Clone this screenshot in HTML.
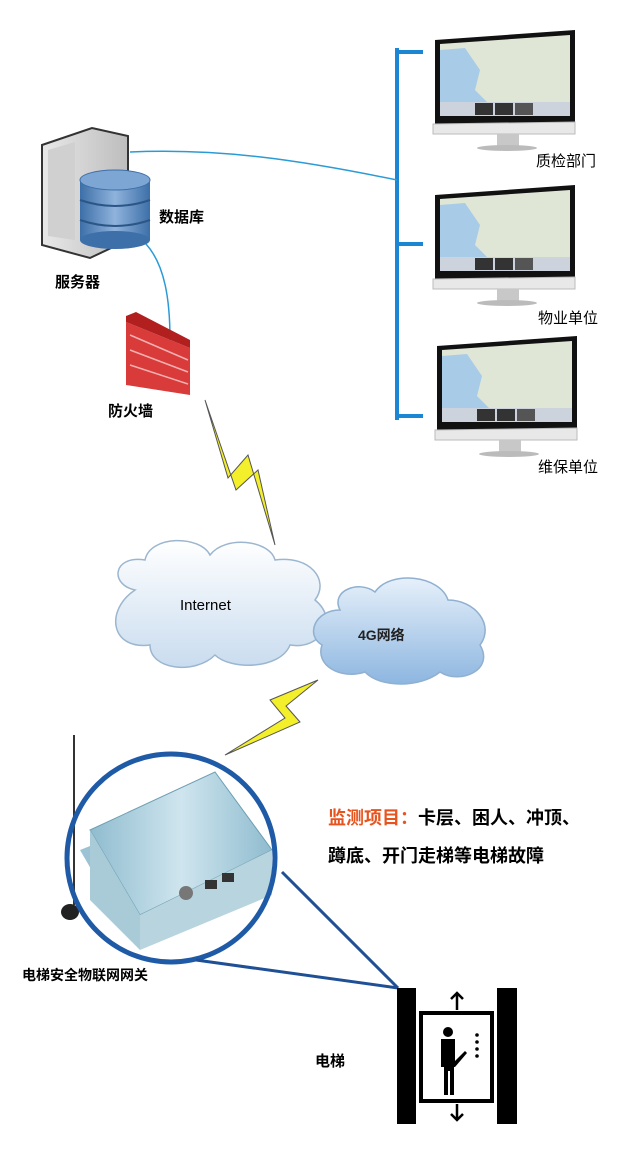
<!DOCTYPE html>
<html><head><meta charset="utf-8"><style>
html,body{margin:0;padding:0;background:#fff;}
svg{display:block;}
text{font-family:"Liberation Sans","Noto Sans CJK SC",sans-serif;}
</style></head><body>
<svg width="640" height="1154" viewBox="0 0 640 1154" xmlns="http://www.w3.org/2000/svg">
<defs>
<linearGradient id="db" x1="0" x2="1"><stop offset="0" stop-color="#3d6fa8"/><stop offset=".5" stop-color="#8fb3dc"/><stop offset="1" stop-color="#3d6fa8"/></linearGradient>
<linearGradient id="srv" x1="0" x2="1"><stop offset="0" stop-color="#e8e8e8"/><stop offset="1" stop-color="#bdbdbd"/></linearGradient>
<linearGradient id="cl1" x1="0" y1="0" x2="0" y2="1"><stop offset="0" stop-color="#ffffff"/><stop offset="1" stop-color="#c9dcef"/></linearGradient>
<linearGradient id="cl2" x1="0" y1="0" x2="0" y2="1"><stop offset="0" stop-color="#e6f0fa"/><stop offset="1" stop-color="#8db6e0"/></linearGradient>
<linearGradient id="box" x1="0" x2="1"><stop offset="0" stop-color="#8fbccf"/><stop offset=".5" stop-color="#cfe5ee"/><stop offset="1" stop-color="#8fbccf"/></linearGradient>
<g id="mon">
<path d="M0,10 L140,0 L140,92 L0,94 Z" fill="#111"/>
<path d="M5,14 L135,5 L135,84 L5,86 Z" fill="#dfe6d6"/>
<path d="M5,20 L30,18 L45,40 L40,60 L55,75 L60,86 L5,86Z" fill="#a8cbe8"/>
<rect x="5" y="72" width="130" height="14" fill="#ccd3dc"/>
<rect x="40" y="73" width="18" height="12" fill="#333"/><rect x="60" y="73" width="18" height="12" fill="#333"/><rect x="80" y="73" width="18" height="12" fill="#555"/>
<path d="M-2,94 L140,92 L140,104 L-2,104Z" fill="#e8e8e8" stroke="#bbb"/>
<rect x="62" y="104" width="22" height="12" fill="#c8c8c8"/>
<ellipse cx="72" cy="118" rx="30" ry="3" fill="#bbb"/>
</g>
</defs>
<line x1="397" y1="48" x2="397" y2="420" stroke="#1b86d4" stroke-width="4"/>
<line x1="397" y1="52" x2="423" y2="52" stroke="#1b86d4" stroke-width="4"/>
<line x1="397" y1="244" x2="423" y2="244" stroke="#1b86d4" stroke-width="4"/>
<line x1="397" y1="416" x2="423" y2="416" stroke="#1b86d4" stroke-width="4"/>
<use href="#mon" x="435" y="30"/>
<use href="#mon" x="435" y="185"/>
<use href="#mon" x="437" y="336"/>
<text x="536" y="166" font-size="15">质检部门</text>
<text x="538" y="323" font-size="15">物业单位</text>
<text x="538" y="472" font-size="15">维保单位</text>
<path d="M130,152 C220,148 300,160 397,180" fill="none" stroke="#2b9bd6" stroke-width="1.5"/>
<path d="M146,244 C165,265 170,300 170,340" fill="none" stroke="#2b9bd6" stroke-width="1.5"/>
<path d="M42,145 L92,128 L128,136 L128,240 L90,258 L42,245 Z" fill="url(#srv)" stroke="#333" stroke-width="2"/>
<path d="M48,150 L75,142 L75,240 L48,236Z" fill="#d0d0d0"/>
<rect x="80" y="180" width="70" height="60" fill="url(#db)"/>
<ellipse cx="115" cy="240" rx="35" ry="9" fill="#3d6fa8"/>
<ellipse cx="115" cy="180" rx="35" ry="10" fill="#7da6d4" stroke="#3d6fa8"/>
<path d="M80,200 Q115,212 150,200 M80,220 Q115,232 150,220" stroke="#2c5686" stroke-width="2" fill="none"/>
<text x="159" y="222" font-size="15" font-weight="bold">数据库</text>
<text x="55" y="287" font-size="15" font-weight="bold">服务器</text>
<path d="M126,322 L190,348 L190,395 L126,385Z" fill="#d93b3b"/>
<path d="M126,316 L136,312 L190,340 L190,348 L126,322Z" fill="#b21f1f"/>
<path d="M130,335 L188,360 M130,350 L188,372 M130,365 L188,384" stroke="#f3b0b0" stroke-width="1.5"/>
<text x="108" y="416" font-size="15" font-weight="bold">防火墙</text>
<path d="M205,400 L228,478 L248,455 L275,545 L258,470 L236,490 Z" fill="#f3ef2a" stroke="#555" stroke-width="1"/>
<path d="M135,590 C110,585 112,555 145,560 C150,535 200,535 210,555 C225,535 270,540 275,560 C310,555 330,580 315,600 C340,620 320,650 290,645 C280,670 230,670 215,655 C195,675 150,670 150,645 C110,650 105,610 135,590Z" fill="url(#cl1)" stroke="#9cb6cf" stroke-width="1.5"/>
<text x="180" y="610" font-size="15" font-family="Liberation Mono,monospace">Internet</text>
<path d="M340,610 C330,590 360,580 375,592 C390,570 440,575 448,600 C475,600 495,625 480,645 C495,670 460,685 440,672 C420,688 380,688 365,672 C340,680 315,665 322,645 C305,635 315,610 340,610Z" fill="url(#cl2)" stroke="#8fb0d0" stroke-width="1.5"/>
<text x="358" y="640" font-size="14" font-weight="bold" fill="#222">4G网络</text>
<path d="M318,680 L270,700 L285,718 L225,755 L300,722 L286,706Z" fill="#f3ef2a" stroke="#555" stroke-width="1"/>
<line x1="74" y1="735" x2="74" y2="905" stroke="#333" stroke-width="2"/>
<ellipse cx="70" cy="912" rx="9" ry="8" fill="#222"/>
<path d="M80,850 L100,842 L145,930 L135,945Z" fill="#9cc3d3"/>
<path d="M90,830 L215,772 L272,850 L140,915Z" fill="url(#box)" stroke="#6d9fb3"/>
<path d="M90,830 L140,915 L140,950 L90,900Z" fill="#a9cbd8"/>
<path d="M140,915 L272,850 L272,895 L140,950Z" fill="#b8d4de"/>
<rect x="205" y="880" width="12" height="9" fill="#333"/><rect x="222" y="873" width="12" height="9" fill="#333"/>
<circle cx="186" cy="893" r="7" fill="#777"/>
<circle cx="171" cy="858" r="104" fill="none" stroke="#1f5aa6" stroke-width="5"/>
<line x1="282" y1="872" x2="398" y2="988" stroke="#1f4f95" stroke-width="3"/>
<line x1="196" y1="960" x2="398" y2="988" stroke="#1f4f95" stroke-width="3"/>
<text x="22" y="980" font-size="14" font-weight="bold">电梯安全物联网网关</text>
<text x="328" y="824" font-size="18" font-weight="bold"><tspan fill="#e8541e">监测项目：</tspan>卡层、困人、冲顶、</text>
<text x="328" y="862" font-size="18" font-weight="bold">蹲底、开门走梯等电梯故障</text>
<rect x="397" y="988" width="19" height="136" fill="#000"/>
<rect x="497" y="988" width="20" height="136" fill="#000"/>
<rect x="421" y="1013" width="71" height="88" fill="none" stroke="#000" stroke-width="4"/>
<path d="M457,1010 V993 M451,999 L457,993 L463,999 M457,1104 V1120 M451,1114 L457,1120 L463,1114" stroke="#000" stroke-width="2.5" fill="none"/>
<circle cx="448" cy="1032" r="5" fill="#000"/>
<path d="M441,1039 h14 v22 l10,-10 2,2 -12,14 v0 h-1 v28 h-4 v-24 h-2 v24 h-4 v-28 h-3z" fill="#000"/>
<circle cx="477" cy="1035" r="1.8"/><circle cx="477" cy="1042" r="1.8"/><circle cx="477" cy="1049" r="1.8"/><circle cx="477" cy="1056" r="1.8"/>
<text x="315" y="1066" font-size="15" font-weight="bold">电梯</text>
</svg>
</body></html>
